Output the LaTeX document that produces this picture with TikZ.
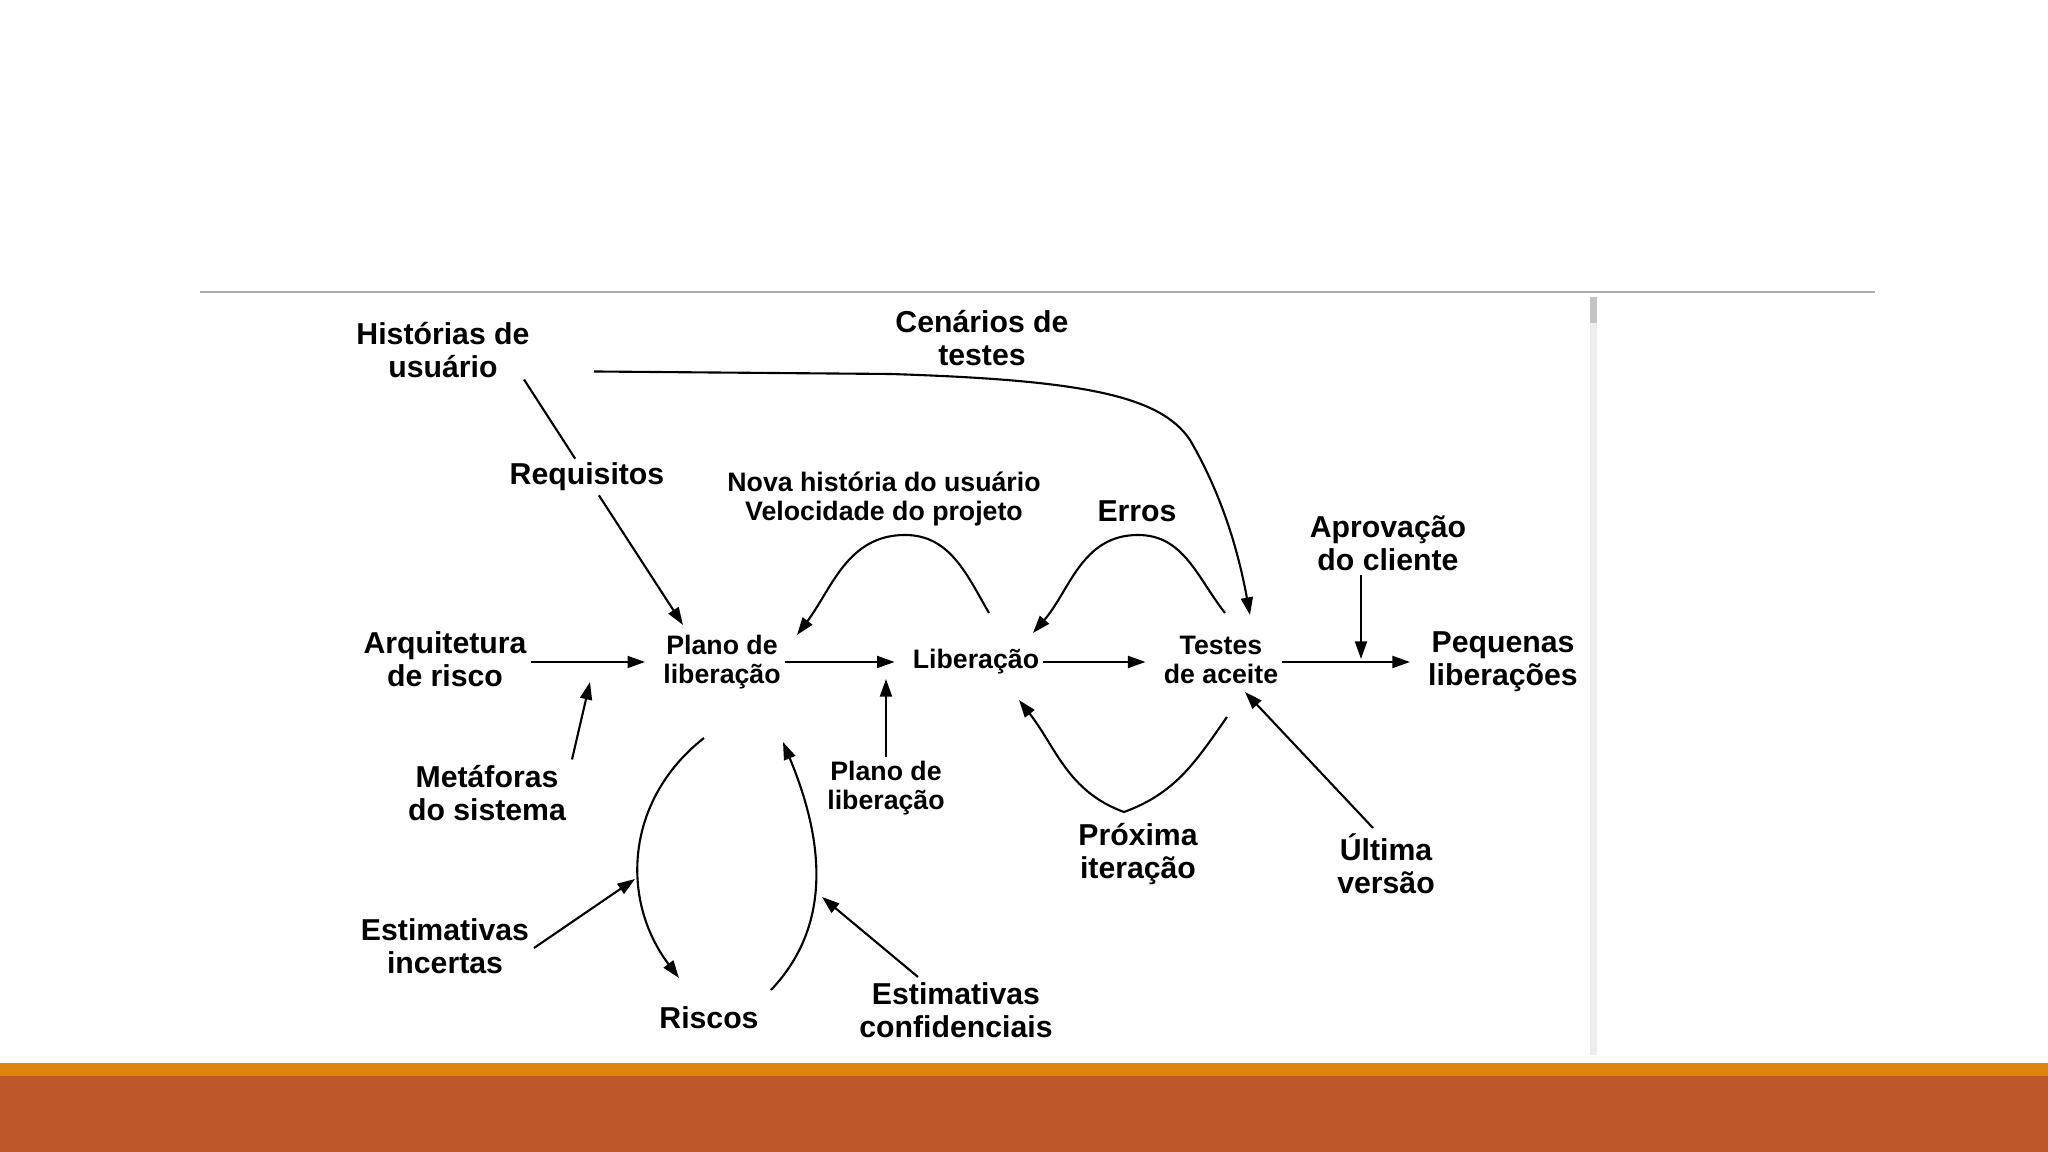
\documentclass[tikz,border=0pt]{standalone}
\usepackage{fontspec}
\setmainfont{Liberation Sans}
\usetikzlibrary{arrows.meta, calc, positioning}
\definecolor{ruleGrey}{HTML}{ABABAB}
\definecolor{scrollGrey}{HTML}{EDEDF0}
\definecolor{thumbGrey}{HTML}{C4C4C4}
\definecolor{bandOrange}{HTML}{E08210}
\definecolor{bandRust}{HTML}{BE572A}
\tikzset{
  lbl/.style   = {font=\fontsize{8.6}{9.4}\selectfont\bfseries, align=center, inner sep=1pt},
  slbl/.style  = {font=\fontsize{7.6}{8.2}\selectfont\bfseries, align=center, inner sep=1pt},
  link/.style  = {-{Triangle[length=5pt, width=3.4pt]}, line width=0.6pt, black},
  flow/.style  = {link, shorten >=4pt},
}
\begin{document}
\begin{tikzpicture}
  \fill[white] (0,0) rectangle (20.48,11.52);
  \draw[ruleGrey, line width=0.6pt] (2.00,8.60) -- (18.75,8.60);
  \fill[scrollGrey] (15.90,0.97) rectangle (15.97,8.55);
  \fill[thumbGrey] (15.90,8.29) rectangle (15.97,8.55);
  \fill[bandOrange] (0,0.76) rectangle (20.48,0.89);
  \fill[bandRust] (0,0) rectangle (20.48,0.76);

  \node[lbl]  (hist)    at (4.43,8.02)  {Histórias de\\usuário};
  \node[lbl]  (cen)     at (9.82,8.14)  {Cenários de\\testes};
  \node[lbl]  (req)     at (5.87,6.75)  {Requisitos};
  \node[slbl] (nova)    at (8.84,6.53)  {Nova história do usuário\\Velocidade do projeto};
  \node[lbl]  (erros)   at (11.37,6.41) {Erros};
  \node[lbl]  (aprov)   at (13.88,6.09) {Aprovação\\do cliente};
  \node[lbl]  (arq)     at (4.45,4.93)  {Arquitetura\\de risco};
  \node[slbl] (plan)    at (7.22,4.90)  {Plano de\\liberação};
  \node[slbl] (lib)     at (9.76,4.90)  {Liberação};
  \node[slbl] (test)    at (12.21,4.92) {Testes\\de aceite};
  \node[lbl]  (peq)     at (15.03,4.90) {Pequenas\\liberações};
  \node[lbl]  (meta)    at (4.87,3.59)  {Metáforas\\do sistema};
  \node[slbl] (plan2)   at (8.86,3.64)  {Plano de\\liberação};
  \node[lbl]  (prox)    at (11.38,2.98) {Próxima\\iteração};
  \node[lbl]  (ult)     at (13.86,2.88) {Última\\versão};
  \node[lbl]  (estinc)  at (4.45,2.06)  {Estimativas\\incertas};
  \node[lbl]  (riscos)  at (7.09,1.34)  {Riscos};
  \node[lbl]  (estconf) at (9.56,1.42)  {Estimativas\\confidenciais};

  \coordinate (aprhit)  at (13.61,4.93);
  \coordinate (metahit) at (5.90,4.70);
  \coordinate (planhit) at (8.86,4.73);
  \coordinate (inchit)  at (6.35,2.73);
  \coordinate (confhit) at (8.22,2.55);

  \draw[flow] (arq.east |- plan) -- (plan);
  \draw[flow] (plan) -- (lib);
  \draw[flow] (lib) -- (lib -| test.west);
  \draw[flow] (test.east |- peq) -- (peq);

  \draw[link] ([shift={(0.81,-0.295)}]hist.center) -- (req) -- ([shift={(-0.39,0.37)}]plan.center);
  \draw[link] ([shift={(1.51,-0.215)}]hist.center) -- (8.90,7.78)
    .. controls (10.80,7.72) and (11.60,7.57) .. (11.90,7.12)
    .. controls (12.25,6.52) and (12.40,5.92) .. ([shift={(0.29,0.45)}]test.center);
  \draw[link] ([shift={(0.13,0.49)}]lib.center) to[out=120,in=0] (9.05,6.17)
    to[out=180,in=53] ([shift={(0.75,0.27)}]plan.center);
  \draw[link] ([shift={(0.04,0.47)}]test.center) to[out=128,in=0] (11.38,6.17)
    to[out=180,in=49] ([shift={(0.57,0.29)}]lib.center);
  \draw[link] ([xshift=-0.27cm]aprov.south) -- (aprhit);
  \draw[link] ([shift={(0.85,0.335)}]meta.center) -- (metahit);
  \draw[link] (plan2.north) -- (planhit);
  \draw[link] ([shift={(-0.18,-0.76)}]plan.center) .. controls (6.25,3.52) and (6.20,2.52)
    .. ([shift={(-0.30,0.40)}]riscos.center);
  \draw[link] ([shift={(0.62,0.28)}]riscos.center) .. controls (8.28,2.22) and (8.28,3.02)
    .. ([shift={(0.61,-0.80)}]plan.center);
  \draw[link] ([shift={(0.89,-0.02)}]estinc.center) -- (inchit);
  \draw[link] ([shift={(-0.38,0.33)}]estconf.center) -- (confhit);
  \draw[link] ([shift={(0.06,-0.57)}]test.center) to[out=235,in=20] (11.24,3.40)
    to[out=160,in=-52] ([shift={(0.43,-0.38)}]lib.center);
  \draw[link] ([shift={(-0.13,0.36)}]ult.center) -- ([shift={(0.24,-0.32)}]test.center);
\end{tikzpicture}
\end{document}
